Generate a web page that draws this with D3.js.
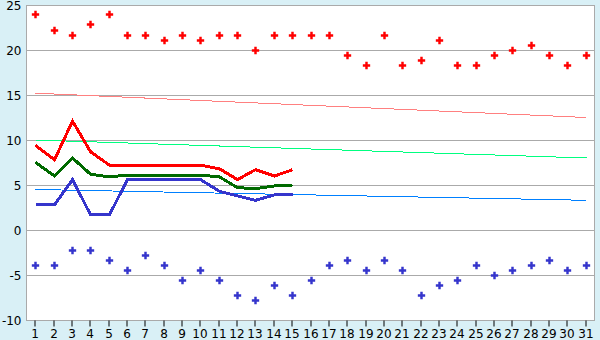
<!doctype HTML>
<html>
<head>
    <style>
        body { margin: 0; background: #d9f0f6; }
        text { font-family: "DejaVu Sans", Verdana, sans-serif; fill: #000; }
    </style>
    <script src="https://d3js.org/d3.v7.min.js"></script>
</head>
<body>
<script>
    // days of the month
    var days = d3.range(1, 32);

    // daily max / min (points)
    var maxTemp = [24, 22.2, 21.7, 22.9, 24, 21.7, 21.7, 21.1, 21.7, 21.1,
                   21.7, 21.7, 20, 21.7, 21.7, 21.7, 21.7, 19.4, 18.3, 21.7,
                   18.3, 18.9, 21.1, 18.3, 18.3, 19.4, 20, 20.6, 19.4, 18.3, 19.4];
    var minTemp = [-3.9, -3.9, -2.2, -2.2, -3.3, -4.4, -2.8, -3.9, -5.6, -4.4,
                   -5.6, -7.2, -7.8, -6.1, -7.2, -5.6, -3.9, -3.3, -4.4, -3.3,
                   -4.4, -7.2, -6.1, -5.6, -3.9, -5.0, -4.4, -3.9, -3.3, -4.4, -3.9];

    // lines for the first 15 days
    var hiLine = [9.4, 7.8, 12.1, 8.7, 7.2, 7.2, 7.2, 7.2, 7.2, 7.2, 6.8, 5.6, 6.7, 6.0, 6.7];
    var avgLine = [7.5, 6.0, 8.0, 6.2, 5.9, 6.1, 6.1, 6.1, 6.1, 6.1, 5.9, 4.7, 4.6, 4.9, 5.0];
    var loLine = [2.8, 2.8, 5.6, 1.7, 1.7, 5.6, 5.6, 5.6, 5.6, 5.6, 4.3, 3.8, 3.3, 3.9, 3.9];

    // normals, first and last day
    var normalDays = [1, 31];
    var normalHi = [15.2, 12.5];
    var normalAvg = [10.0, 8.0];
    var normalLo = [4.5, 3.3];

    var yTicks = [-10, -5, 0, 5, 10, 15, 20, 25];

    var svg = d3.select("body").append("svg")
        .attr("width", 600)
        .attr("height", 340)
        .style("display", "block");

    var plotLeft = 26, plotRight = 595, plotTop = 5, plotBottom = 320;

    var x = d3.scaleBand().domain(days).range([plotLeft, plotRight]).padding(0);
    var y = d3.scaleLinear().domain([-10, 25]).range([plotBottom, plotTop]);
    var cx = function(d) { return Math.round(x(d) + x.bandwidth() / 2) + 0.5; };

    svg.append("rect")
        .attr("x", plotLeft).attr("y", plotTop)
        .attr("width", plotRight - plotLeft).attr("height", plotBottom - plotTop)
        .attr("fill", "#fff");

    // grid
    svg.append("g").selectAll("line")
        .data(yTicks)
        .enter().append("line")
        .attr("x1", plotLeft).attr("x2", plotRight)
        .attr("y1", function(d) { return Math.round(y(d)) + 0.5; })
        .attr("y2", function(d) { return Math.round(y(d)) + 0.5; })
        .attr("stroke", "#aaa");

    // frame
    svg.append("rect")
        .attr("x", plotLeft + 0.5).attr("y", plotTop + 0.5)
        .attr("width", plotRight - plotLeft - 1).attr("height", plotBottom - plotTop)
        .attr("fill", "none")
        .attr("stroke", "#aaa")
        .attr("stroke-width", 1);

    // y axis
    var yAxis = svg.append("g")
        .attr("transform", "translate(" + (plotLeft + 0.5) + ",0.5)")
        .call(d3.axisLeft(y).tickValues(yTicks).tickSize(0).tickPadding(5)
            .tickFormat(function(d) { return String(d); }));
    yAxis.select(".domain").remove();
    yAxis.selectAll("text").style("font-size", "12px").attr("font-family", null);

    // x axis
    var xAxis = svg.append("g")
        .attr("transform", "translate(0," + (plotBottom + 0.5) + ")")
        .call(d3.axisBottom(x).tickSize(6).tickPadding(3));
    xAxis.select(".domain").remove();
    xAxis.selectAll("line").attr("stroke", "#000");
    xAxis.selectAll(".tick").attr("transform", function(d) { return "translate(" + (cx(d) - 0.5) + ",0)"; });
    xAxis.selectAll("text").style("font-size", "12px").attr("font-family", null);

    // normal lines
    function normalLine(vals, color) {
        svg.append("path")
            .datum(normalDays.map(function(d, i) { return [d, vals[i]]; }))
            .attr("fill", "none")
            .attr("stroke", color)
            .attr("stroke-width", 1)
            .attr("shape-rendering", "crispEdges")
            .attr("d", d3.line().x(function(d) { return cx(d[0]); }).y(function(d) { return y(d[1]); }));
    }
    normalLine(normalHi, "#ff8080");
    normalLine(normalAvg, "#00ff80");
    normalLine(normalLo, "#0080ff");

    // daily lines
    function dayLine(vals, color) {
        svg.append("path")
            .datum(vals)
            .attr("fill", "none")
            .attr("stroke", color)
            .attr("stroke-width", 3)
            .attr("shape-rendering", "crispEdges")
            .attr("d", d3.line().x(function(d, i) { return cx(days[i]); }).y(function(d) { return y(d); }));
    }
    dayLine(hiLine, "#ff0000");
    dayLine(avgLine, "#006a00");
    dayLine(loLine, "#3535cc");

    // points (plus markers)
    function points(vals, color) {
        svg.append("g").selectAll("path")
            .data(vals)
            .enter().append("path")
            .attr("d", d3.symbol().type(d3.symbolCross).size(30))
            .attr("transform", function(d, i) { return "translate(" + cx(days[i]) + "," + (Math.round(y(d)) + 0.5) + ")"; })
            .attr("fill", color);
    }
    points(maxTemp, "#ff0000");
    points(minTemp, "#3535cc");
</script>
</body>
</html>
